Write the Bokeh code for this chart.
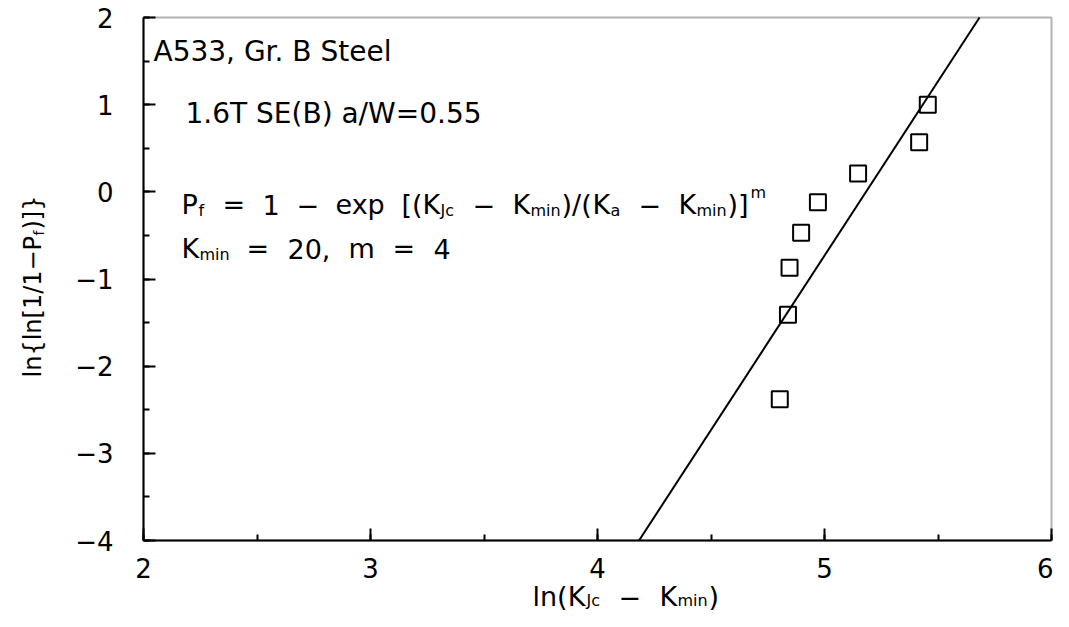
import math
from bokeh.plotting import figure
from bokeh.models import (Range1d, SingleIntervalTicker, Label, CustomJSTickFormatter,
                          BoxAnnotation)
from bokeh.embed import file_html
from bokeh.resources import INLINE

# ---- data ----
ln_k = [5.455, 5.417, 5.148, 4.971, 4.897, 4.846, 4.839, 4.803]
lnln = [1.00, 0.57, 0.21, -0.12, -0.47, -0.87, -1.41, -2.38]
fit_x = [4.183, 5.683]
fit_y = [-4.0, 2.0]
x_lim = [2, 6]
y_lim = [-4, 2]

FONT = "DejaVu Sans"
W, H = 1053, 611
# pixel position of the plot box inside the canvas
PX_L, PX_R, PX_T, PX_B = 143, 1051, 17, 540
xs = (PX_R - PX_L) / (x_lim[1] - x_lim[0])
ys = (PX_B - PX_T) / (y_lim[1] - y_lim[0])
xr = Range1d(x_lim[0] - PX_L / xs, x_lim[0] + (W - PX_L) / xs)
yr = Range1d(y_lim[0] - (H - PX_B) / ys, y_lim[1] + PX_T / ys)

p = figure(width=W, height=H, output_backend="svg", toolbar_location=None,
           x_range=xr, y_range=yr, min_border=0, min_border_left=0,
           min_border_right=0, min_border_top=0, min_border_bottom=0)
p.background_fill_color = "white"
p.border_fill_color = "white"
p.outline_line_color = None
p.xgrid.visible = False
p.ygrid.visible = False

fmt = CustomJSTickFormatter(code='return tick < 0 ? "\u2212" + Math.abs(tick) : String(tick);')
for ax in (p.xaxis[0], p.yaxis[0]):
    ax.ticker = SingleIntervalTicker(interval=1, num_minor_ticks=2)
    ax.formatter = fmt
    ax.axis_line_color = "black"
    ax.axis_line_width = 2
    ax.major_tick_in = 12
    ax.major_tick_out = 0
    ax.minor_tick_in = 6
    ax.minor_tick_out = 0
    ax.major_tick_line_width = 2
    ax.minor_tick_line_width = 2
    ax.major_tick_line_color = "black"
    ax.minor_tick_line_color = "black"
    ax.major_label_text_font = FONT
    ax.major_label_text_font_size = "26px"
    ax.major_label_text_color = "black"
p.xaxis.fixed_location = y_lim[0]
p.yaxis.fixed_location = x_lim[0]
p.xaxis.bounds = tuple(x_lim)
p.yaxis.bounds = tuple(y_lim)
p.xaxis.major_label_standoff = 17
p.yaxis.major_label_standoff = 30

p.add_layout(BoxAnnotation(left=x_lim[0], right=x_lim[1], bottom=y_lim[0], top=y_lim[1],
                           fill_alpha=0, line_color="black", line_width=2))

p.line(fit_x, fit_y, line_color="black", line_width=2)
p.scatter(ln_k, lnln, marker="square", size=16, fill_color=None,
          line_color="black", line_width=2)


def dx(px):
    return x_lim[0] + (px - PX_L) / xs


def dy(py):
    return y_lim[1] - (py - PX_T) / ys


def lab(txt, px, py, size=27, angle=0.0):
    p.add_layout(Label(x=dx(px), y=dy(py), text=txt, text_font=FONT,
                       text_font_size=f"{size}px", text_baseline="alphabetic",
                       text_align="left", angle=angle, text_color="black"))


SUB = 16
SUBD, SUPU = 6, -12

lab("A533, Gr. B Steel", 153, 51, 28)
lab("1.6T SE(B) a/W=0.55", 185, 113, 28)

# formula line 1
b1 = 204
lab("P", 181, b1); lab("f", 198, b1 + SUBD, SUB)
lab("=", 222, b1)
lab("1", 262, b1)
lab("\u2212", 296, b1)
lab("exp", 335, b1)
lab("[(K", 401, b1); lab("Jc", 440, b1 + SUBD, SUB)
lab("\u2212", 472, b1)
lab("K", 512, b1); lab("min", 530, b1 + SUBD, SUB)
lab(")/(", 561, b1)
lab("K", 592, b1); lab("a", 610, b1 + SUBD, SUB)
lab("\u2212", 638, b1)
lab("K", 678, b1); lab("min", 696, b1 + SUBD, SUB)
lab(")]", 727, b1); lab("m", 750, b1 + SUPU, SUB)

# formula line 2
b2 = 248
lab("K", 181, b2); lab("min", 199, b2 + SUBD, SUB)
lab("=", 246, b2)
lab("20,", 287, b2)
lab("m", 348, b2)
lab("=", 392, b2)
lab("4", 433, b2)

# x axis title
bx = 596
XSUB = 4
lab("ln(K", 532, bx); lab("Jc", 586, bx + XSUB, SUB)
lab("\u2212", 618, bx)
lab("K", 659, bx); lab("min", 677, bx + XSUB, SUB)
lab(")", 708, bx)

# y axis title (rotated)
ang = math.pi / 2
by = 32
lab("ln{ln[1/1\u2212P", by, 377, 24, ang)
lab("f", by + SUBD, 235, 14, ang)
lab(")]}", by, 229, 24, ang)

open("out.html", "w").write(file_html(p, INLINE))
